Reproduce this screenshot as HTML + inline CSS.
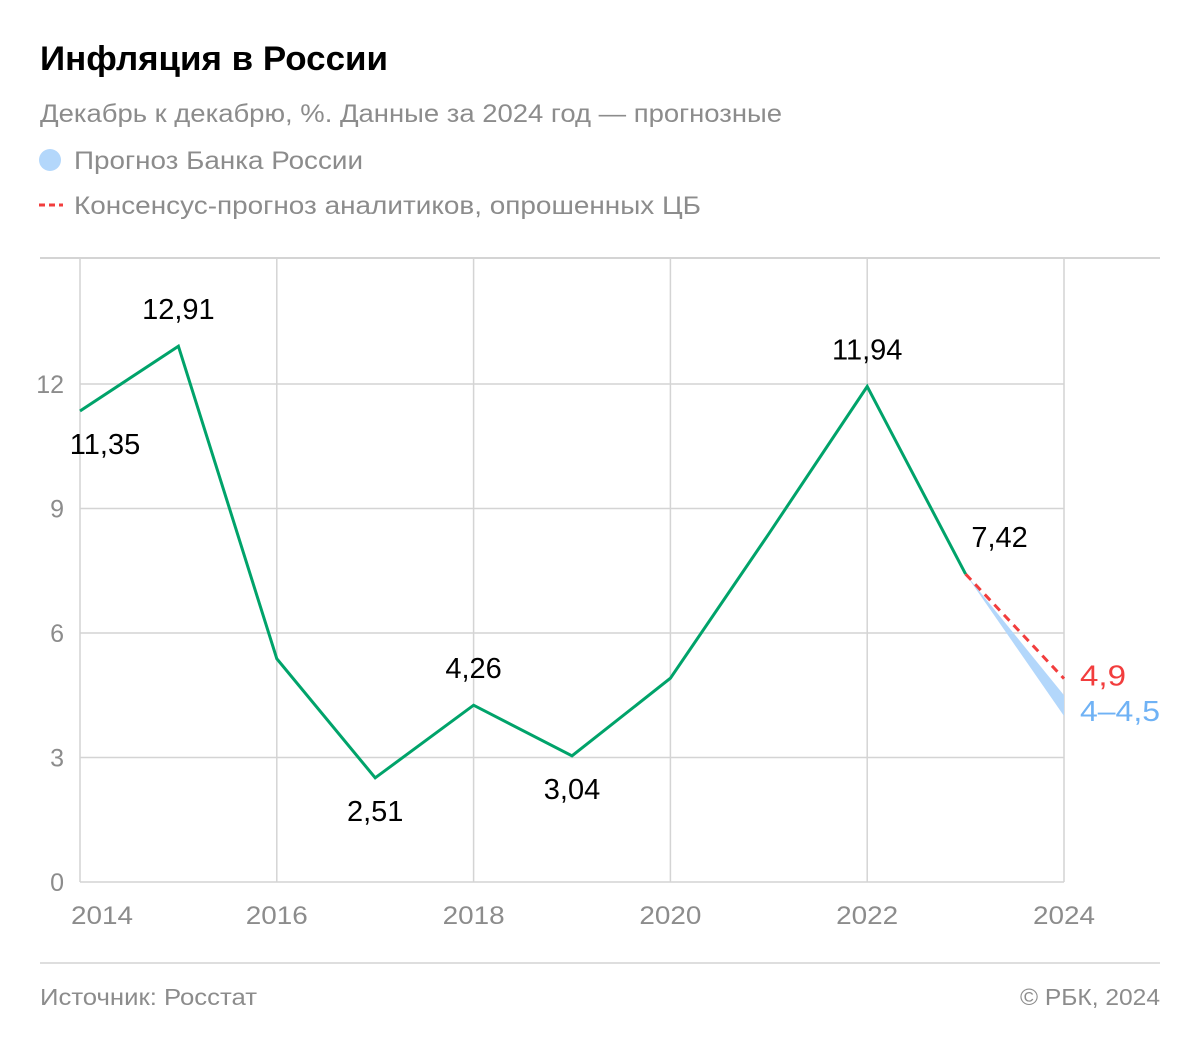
<!DOCTYPE html>
<html><head><meta charset="utf-8"><style>
body{margin:0;background:#fff;width:1200px;height:1053px;overflow:hidden;font-family:"Liberation Sans",sans-serif}
</style></head><body>
<svg width="1200" height="1053" font-family="Liberation Sans, sans-serif">
<text x="40" y="70" font-size="34" font-weight="bold" fill="#000" textLength="348" lengthAdjust="spacingAndGlyphs">Инфляция в России</text>
<text x="40" y="122" font-size="25" fill="#8c8c8c" textLength="742" lengthAdjust="spacingAndGlyphs">Декабрь к декабрю, %. Данные за 2024 год — прогнозные</text>
<circle cx="50" cy="160" r="11" fill="#b3d7fb"/>
<text x="74" y="169" font-size="25" fill="#8c8c8c" textLength="289" lengthAdjust="spacingAndGlyphs">Прогноз Банка России</text>
<line x1="39" y1="205" x2="63" y2="205" stroke="#f23d3d" stroke-width="3" stroke-dasharray="6,4"/>
<text x="74" y="214" font-size="25" fill="#8c8c8c" textLength="627" lengthAdjust="spacingAndGlyphs">Консенсус-прогноз аналитиков, опрошенных ЦБ</text>
<line x1="40" y1="258" x2="1160" y2="258" stroke="#d4d4d4" stroke-width="2"/>
<g id="grid"></g>
<g id="marks"></g>
<line x1="40" y1="963" x2="1160" y2="963" stroke="#d4d4d4" stroke-width="1.5"/>
<text x="40" y="1005" font-size="23" fill="#8c8c8c" textLength="217" lengthAdjust="spacingAndGlyphs">Источник: Росстат</text>
<text x="1020" y="1005" font-size="23" fill="#8c8c8c" textLength="140" lengthAdjust="spacingAndGlyphs">© РБК, 2024</text>
</svg>
<script>
const years=[2014,2015,2016,2017,2018,2019,2020,2021,2022,2023];
const values=[11.35,12.91,5.38,2.51,4.26,3.04,4.91,8.39,11.94,7.42];
const labels=["11,35","12,91","","2,51","4,26","3,04","","","11,94","7,42"];
const labelPos=["below","above","","below","above","below","","","above","above"];
const cbLow=4, cbHigh=4.5, consensus=4.9;
const yTicks=[0,3,6,9,12];
const xTicks=[2014,2016,2018,2020,2022,2024];
const NS="http://www.w3.org/2000/svg";
const X=y=>80+(y-2014)*98.4;
const Y=v=>882-v*41.5;
function mk(t,a,p){const e=document.createElementNS(NS,t);for(const k in a)e.setAttribute(k,a[k]);p.appendChild(e);return e;}
const g=document.getElementById('grid'),m=document.getElementById('marks');
yTicks.forEach(v=>{
 const l=mk('line',{x1:80,x2:1064,y1:Y(v),y2:Y(v),stroke:'#d4d4d4','stroke-width':1.5},g);
 
 
 const t=mk('text',{x:64,y:Y(v)+9,'font-size':25,fill:'#8c8c8c','text-anchor':'end'},g);t.textContent=v;
 
 
});
xTicks.forEach(yr=>{
 const l=mk('line',{x1:X(yr),x2:X(yr),y1:258,y2:882,stroke:'#d4d4d4','stroke-width':1.5},g);
 
 
 const t=mk('text',{x:X(yr)+(yr==2014?22:0),y:924,'font-size':25,fill:'#8c8c8c','text-anchor':'middle',textLength:62,lengthAdjust:'spacingAndGlyphs'},g);t.textContent=yr;
 
 
});
const last=years.length-1;
const band=mk('polygon',{points:`${X(years[last])},${Y(values[last])} ${X(2024)},${Y(cbHigh)} ${X(2024)},${Y(cbLow)}`,fill:'#b3d7fb'},m);


const dl=mk('line',{x1:X(years[last]),y1:Y(values[last]),x2:X(2024),y2:Y(consensus),stroke:'#f23d3d','stroke-width':3,'stroke-dasharray':'8,6'},m);


const pl=mk('polyline',{points:years.map((y,i)=>X(y)+','+Y(values[i])).join(' '),fill:'none',stroke:'#00a36a','stroke-width':3,'stroke-linejoin':'miter'},m);


years.forEach((y,i)=>{
 if(!labels[i])return;
 let x=X(y),yy=labelPos[i]=='above'?Y(values[i])-27:Y(values[i])+43;
 if(i==0)x+=25; if(i==last)x+=34;
 const t=mk('text',{x:x,y:yy,'font-size':29,fill:'#000','text-anchor':'middle'},m);t.textContent=labels[i];
 
 
});
const t1=mk('text',{x:1080,y:Y(consensus)+7,'font-size':29,fill:'#f23d3d',textLength:46,lengthAdjust:'spacingAndGlyphs'},m);t1.textContent='4,9';


const t2=mk('text',{x:1080,y:Y(cbLow)+5,'font-size':29,fill:'#6fb2f5',textLength:80,lengthAdjust:'spacingAndGlyphs'},m);t2.textContent='4–4,5';


</script>
</body></html>
